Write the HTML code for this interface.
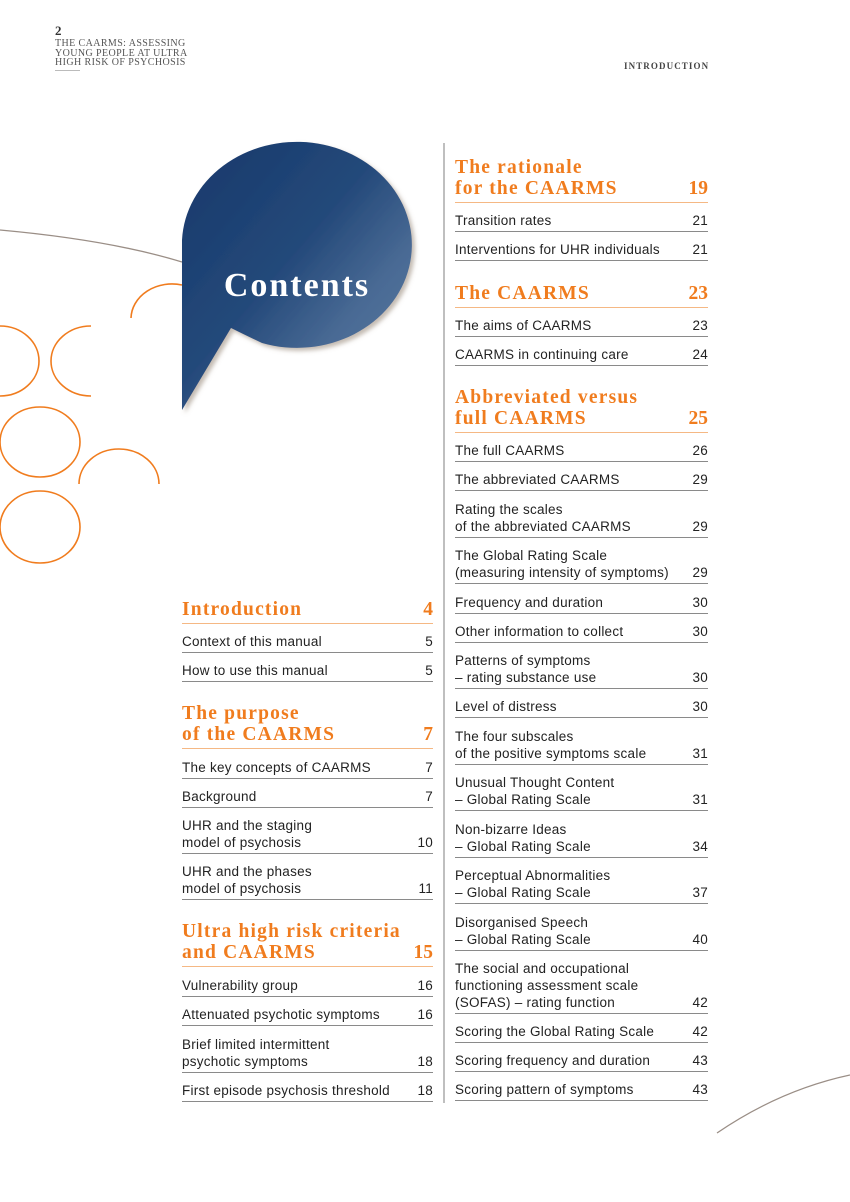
<!DOCTYPE html>
<html><head><meta charset="utf-8"><style>
body{margin:0;background:#fff;}
#p{position:relative;width:850px;height:1202px;overflow:hidden;font-family:"Liberation Sans",sans-serif;}
.e{position:absolute;font-size:13.5px;letter-spacing:0.25px;line-height:17px;color:#222;border-bottom:1px solid #8a8a8a;padding-bottom:2px;display:flex;justify-content:space-between;align-items:flex-end;}
.h{position:absolute;font-family:"Liberation Serif",serif;font-weight:bold;font-size:19.5px;letter-spacing:1.2px;line-height:21px;color:#f07c1e;border-bottom:1px solid #f5b884;padding-bottom:3px;display:flex;justify-content:space-between;align-items:flex-end;}
.h span:last-child{letter-spacing:0}
.L{left:182px;width:251px}.R{left:455px;width:253px}
.hd{position:absolute;font-family:"Liberation Serif",serif;color:#555;}
</style></head><body><div id="p">
<div class="hd" style="left:55px;top:23px;font-size:13px;font-weight:bold;color:#333">2</div>
<div class="hd" style="left:55px;top:39px;font-size:10px;letter-spacing:0.4px;line-height:9.5px">THE CAARMS: ASSESSING<br>YOUNG PEOPLE AT ULTRA<br>HIGH RISK OF PSYCHOSIS</div>
<div style="position:absolute;left:55px;top:70px;width:25px;height:1px;background:#bbb"></div>
<div class="hd" style="left:624px;top:61px;font-size:9px;font-weight:bold;color:#444;letter-spacing:1.1px">INTRODUCTION</div>
<svg width="850" height="1202" style="position:absolute;left:0;top:0">
<defs><linearGradient id="g" x1="0" y1="0" x2="1" y2="1"><stop offset="0" stop-color="#16386a"/><stop offset="0.45" stop-color="#24497a"/><stop offset="0.7" stop-color="#4a6b95"/><stop offset="1" stop-color="#5c7aa0"/></linearGradient>
<filter id="s"><feDropShadow dx="3" dy="3" stdDeviation="2" flood-color="#887766" flood-opacity="0.5"/></filter></defs>
<path d="M0,230 Q110,240 182,262" stroke="#9a8e86" stroke-width="1.3" fill="none"/>
<path d="M717,1133 Q780,1090 850,1075" stroke="#9a8e86" stroke-width="1.3" fill="none"/>
<g stroke="#f07c1e" stroke-width="1.6" fill="none">
<path d="M131,318 A41,35 0 0 1 182,285"/>
<path d="M0,326 A39,35 0 0 1 0,396"/>
<path d="M91,326 A40,35 0 0 0 91,396"/>
<ellipse cx="40" cy="442" rx="40" ry="35"/>
<path d="M79,484 A40,35 0 0 1 159,484"/>
<ellipse cx="40" cy="527" rx="40" ry="36"/>
</g>
<g filter="url(#s)">
<path d="M182,410 L182,240 A115,103 0 1 1 262,343 Q245,335 231,328 Z" fill="url(#g)"/>
</g>
<text x="297" y="296" text-anchor="middle" font-family="Liberation Serif,serif" font-weight="bold" font-size="34" letter-spacing="2" fill="#fff">Contents</text>
<line x1="444" y1="143" x2="444" y2="1103" stroke="#aaa" stroke-width="1.5"/>
</svg>
<div class="h R" style="top:157px"><span>The rationale<br>for the CAARMS</span><span>19</span></div>
<div class="e R" style="top:212px"><span>Transition rates</span><span>21</span></div>
<div class="e R" style="top:241px"><span>Interventions for UHR individuals</span><span>21</span></div>
<div class="h R" style="top:283px"><span>The CAARMS</span><span>23</span></div>
<div class="e R" style="top:317px"><span>The aims of CAARMS</span><span>23</span></div>
<div class="e R" style="top:346px"><span>CAARMS in continuing care</span><span>24</span></div>
<div class="h R" style="top:387px"><span>Abbreviated versus<br>full CAARMS</span><span>25</span></div>
<div class="e R" style="top:442px"><span>The full CAARMS</span><span>26</span></div>
<div class="e R" style="top:471px"><span>The abbreviated CAARMS</span><span>29</span></div>
<div class="e R" style="top:501px"><span>Rating the scales<br>of the abbreviated CAARMS</span><span>29</span></div>
<div class="e R" style="top:547px"><span>The Global Rating Scale<br>(measuring intensity of symptoms)</span><span>29</span></div>
<div class="e R" style="top:594px"><span>Frequency and duration</span><span>30</span></div>
<div class="e R" style="top:623px"><span>Other information to collect</span><span>30</span></div>
<div class="e R" style="top:652px"><span>Patterns of symptoms<br>– rating substance use</span><span>30</span></div>
<div class="e R" style="top:698px"><span>Level of distress</span><span>30</span></div>
<div class="e R" style="top:728px"><span>The four subscales<br>of the positive symptoms scale</span><span>31</span></div>
<div class="e R" style="top:774px"><span>Unusual Thought Content<br>– Global Rating Scale</span><span>31</span></div>
<div class="e R" style="top:821px"><span>Non-bizarre Ideas<br>– Global Rating Scale</span><span>34</span></div>
<div class="e R" style="top:867px"><span>Perceptual Abnormalities<br>– Global Rating Scale</span><span>37</span></div>
<div class="e R" style="top:914px"><span>Disorganised Speech<br>– Global Rating Scale</span><span>40</span></div>
<div class="e R" style="top:960px"><span>The social and occupational<br>functioning assessment scale<br>(SOFAS) – rating function</span><span>42</span></div>
<div class="e R" style="top:1023px"><span>Scoring the Global Rating Scale</span><span>42</span></div>
<div class="e R" style="top:1052px"><span>Scoring frequency and duration</span><span>43</span></div>
<div class="e R" style="top:1081px"><span>Scoring pattern of symptoms</span><span>43</span></div>
<div class="h L" style="top:599px"><span>Introduction</span><span>4</span></div>
<div class="e L" style="top:633px"><span>Context of this manual</span><span>5</span></div>
<div class="e L" style="top:662px"><span>How to use this manual</span><span>5</span></div>
<div class="h L" style="top:703px"><span>The purpose<br>of the CAARMS</span><span>7</span></div>
<div class="e L" style="top:759px"><span>The key concepts of CAARMS</span><span>7</span></div>
<div class="e L" style="top:788px"><span>Background</span><span>7</span></div>
<div class="e L" style="top:817px"><span>UHR and the staging<br>model of psychosis</span><span>10</span></div>
<div class="e L" style="top:863px"><span>UHR and the phases<br>model of psychosis</span><span>11</span></div>
<div class="h L" style="top:921px"><span>Ultra high risk criteria<br>and CAARMS</span><span>15</span></div>
<div class="e L" style="top:977px"><span>Vulnerability group</span><span>16</span></div>
<div class="e L" style="top:1006px"><span>Attenuated psychotic symptoms</span><span>16</span></div>
<div class="e L" style="top:1036px"><span>Brief limited intermittent<br>psychotic symptoms</span><span>18</span></div>
<div class="e L" style="top:1082px"><span>First episode psychosis threshold</span><span>18</span></div>
</div></body></html>
